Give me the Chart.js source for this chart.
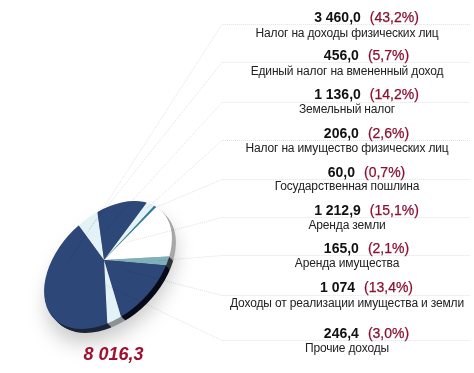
<!DOCTYPE html>
<html>
<head>
<meta charset="utf-8">
<style>
  body { margin: 0; background: #fff; font-family: "Liberation Sans", Arial, sans-serif; }
  #wrap { position: relative; width: 474px; height: 373px; overflow: hidden; }
  #grafica { position: absolute; left: 0; top: 0; }
  .cifra, .nombre { position: absolute; white-space: nowrap; transform: translate(-50%, -50%); }
  .cifra { left: 366.5px; font-size: 14px; font-weight: bold; color: #111; }
  .cifra span { font-weight: normal; color: #8b1030; margin-left: 9px; -webkit-text-stroke: 0.25px #8b1030; }
  .nombre { left: 347px; font-size: 12px; letter-spacing: -0.16px; color: #222; }
  #total { position: absolute; left: 113.5px; top: 354px; transform: translate(-50%, -50%);
    font-size: 18px; font-weight: bold; font-style: italic; color: #a01030; }
</style>
</head>
<body>
<div id="wrap">
  <canvas id="grafica" width="474" height="373"></canvas>
  <div id="total"></div>
</div>
<script src="https://cdn.jsdelivr.net/npm/chart.js@4"></script>
<script>
const categories = [
  "Налог на доходы физических лиц",
  "Единый налог на вмененный доход",
  "Земельный налог",
  "Налог на имущество физических лиц",
  "Государственная пошлина",
  "Аренда земли",
  "Аренда имущества",
  "Доходы от реализации имущества и земли",
  "Прочие доходы",
];
const values = [3460.0, 456.0, 1136.0, 206.0, 60.0, 1212.9, 165.0, 1074, 246.4];
const valueLabels = ["3 460,0", "456,0", "1 136,0", "206,0", "60,0", "1 212,9", "165,0", "1 074", "246,4"];
const percentLabels = ["(43,2%)", "(5,7%)", "(14,2%)", "(2,6%)", "(0,7%)", "(15,1%)", "(2,1%)", "(13,4%)", "(3,0%)"];
const totalLabel = "8 016,3";

const sliceColors = ["#2c4778", "#e3f2f7", "#2c4778", "#e3f2f7", "#2f7f9c", "#ffffff", "#7fb0bc", "#2c4778", "#e3f2f7"];
const rimColors = ["#1c2438", "#9a9fa3", "#111a30", "#9a9fa3", "#555c60", "#a8a8a8", "#30363a", "#080c18", "#8d9295"];

// layout of the text rows and of the leader lines
const valueY = [17, 55, 94, 133, 172, 210, 248, 287, 333];
const nameY = [33, 71, 109, 148, 186, 225, 263, 303, 348];
const lineY = [24, 62, 102, 140, 179, 217, 255, 295, 340];
const leaderFrac = [0.71, 0.37, 0.24, 0.5, 0.5, 0.2, 0.5, 0.33, 0.9];
const leaderReach = [0.52, 0.58, 0.45, 0.77, 0.81, 0.33, 0.81, 0.42, 0.38];

const wrap = document.getElementById("wrap");
categories.forEach((name, i) => {
  const cifra = document.createElement("div");
  cifra.className = "cifra";
  cifra.style.top = valueY[i] + "px";
  cifra.textContent = valueLabels[i];
  const pct = document.createElement("span");
  pct.textContent = percentLabels[i];
  cifra.appendChild(pct);
  wrap.appendChild(cifra);
  const nombre = document.createElement("div");
  nombre.className = "nombre";
  nombre.style.top = nameY[i] + "px";
  nombre.textContent = name;
  wrap.appendChild(nombre);
});
document.getElementById("total").textContent = totalLabel;

// squash and turn the round pie into the tilted disc
const TILT = -Math.PI / 4;
const SQUASH = 49 / 75;
function tiltDisc(ctx, x, y) {
  ctx.translate(x, y);
  ctx.rotate(TILT);
  ctx.scale(1, SQUASH);
  ctx.translate(-x, -y);
}
// the apex sits off centre on the disc, so the pie is bigger and cut by this ellipse
function discPath(ctx, arc) {
  ctx.beginPath();
  ctx.ellipse(arc.x + 4, arc.y + 5, 76, 49, TILT, 0, Math.PI * 2);
}

const discoPlugin = {
  id: "disco",
  beforeDatasetsDraw(chart) {
    const ctx = chart.ctx;
    const arcs = chart.getDatasetMeta(0).data;
    ctx.save();
    ctx.shadowColor = "rgba(0,0,0,0.22)";
    ctx.shadowBlur = 20;
    ctx.shadowOffsetX = 3;
    ctx.shadowOffsetY = 14;
    ctx.fillStyle = "#fff";
    discPath(ctx, arcs[0]);
    ctx.fill();
    ctx.restore();
    // rim: same slices pushed down and right
    for (let step = 5; step >= 1; step--) {
      ctx.save();
      ctx.translate(step * 0.8, step * 0.8);
      discPath(ctx, arcs[0]);
      ctx.clip();
      tiltDisc(ctx, arcs[0].x, arcs[0].y);
      arcs.forEach((arc, i) => {
        ctx.fillStyle = rimColors[i];
        ctx.beginPath();
        ctx.moveTo(arc.x, arc.y);
        ctx.arc(arc.x, arc.y, arc.outerRadius, arc.startAngle, arc.endAngle);
        ctx.closePath();
        ctx.fill();
      });
      ctx.restore();
    }
    ctx.save();
    discPath(ctx, arcs[0]);
    ctx.clip();
    tiltDisc(ctx, arcs[0].x, arcs[0].y);
  },
  afterDatasetsDraw(chart) {
    const ctx = chart.ctx;
    ctx.restore();
    const arcs = chart.getDatasetMeta(0).data;
    ctx.save();
    ctx.strokeStyle = "rgba(0,0,0,0.12)";
    ctx.setLineDash([1, 1]);
    ctx.lineWidth = 1;
    arcs.forEach((arc, i) => {
      const ang = arc.startAngle + (arc.endAngle - arc.startAngle) * leaderFrac[i];
      const px = Math.cos(ang) * arc.outerRadius * leaderReach[i];
      const py = Math.sin(ang) * arc.outerRadius * leaderReach[i] * SQUASH;
      const sx = arc.x + px * Math.cos(TILT) - py * Math.sin(TILT);
      const sy = arc.y + px * Math.sin(TILT) + py * Math.cos(TILT);
      ctx.beginPath();
      ctx.moveTo(sx, sy);
      ctx.lineTo(222, lineY[i] + 0.5);
      ctx.lineTo(470, lineY[i] + 0.5);
      ctx.stroke();
    });
    ctx.restore();
  },
};

new Chart(document.getElementById("grafica"), {
  type: "pie",
  data: {
    labels: categories,
    datasets: [{ data: values, backgroundColor: sliceColors, borderWidth: 0, clip: false }],
  },
  options: {
    responsive: false,
    animation: false,
    rotation: 210.5,
    layout: { padding: { left: 16, right: 282, top: 172, bottom: 25 } },
    plugins: { legend: { display: false }, tooltip: { enabled: false } },
  },
  plugins: [discoPlugin],
});
</script>
</body>
</html>
